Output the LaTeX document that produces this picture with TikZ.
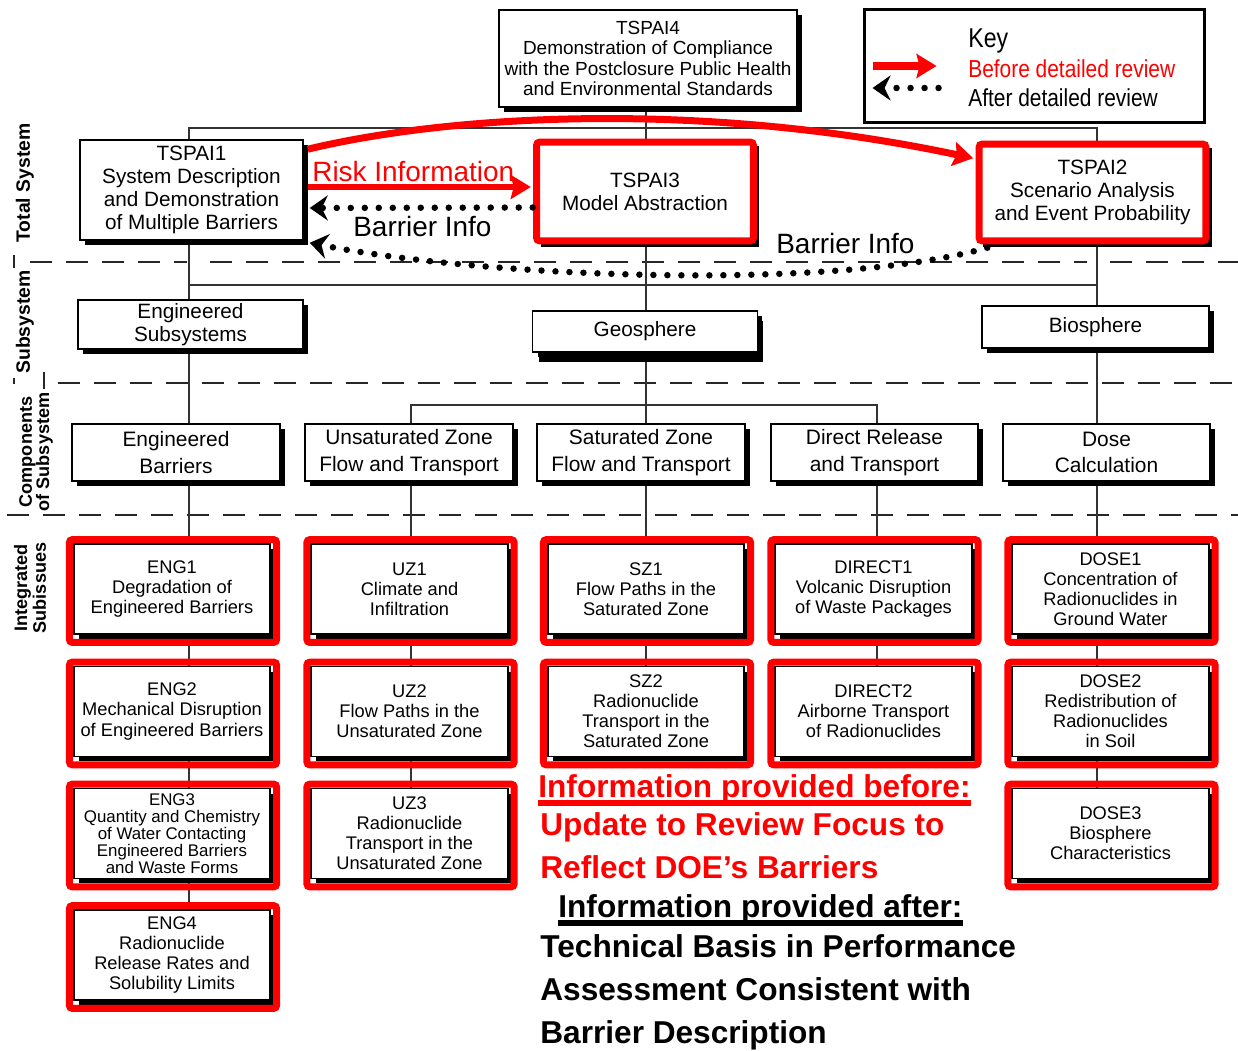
\documentclass[tikz,border=0pt]{standalone}
\usepackage{fontspec}
\setmainfont{Liberation Sans}
\newfontfamily\keyfont[FakeStretch=0.85]{Liberation Sans}
\usetikzlibrary{arrows.meta,shadows,calc,backgrounds}

\tikzset{
  box/.style={draw=black, line width=0.9pt, fill=white, align=center, inner sep=0pt,
    drop shadow={shadow xshift=0.1cm, shadow yshift=-0.1cm, opacity=1, fill=black}},
  sysbox/.style={box, font=\fontsize{11.8}{13.1}\selectfont},
  compbox/.style={box, minimum width=4.15cm, minimum height=1.14cm, font=\fontsize{11.9}{15}\selectfont},
  issuebox/.style={box, minimum width=3.93cm, minimum height=1.8cm, font=\fontsize{10.4}{11.4}\selectfont},
  redframe/.style={draw=red, line width=0.14cm, rounded corners=1.5pt},
  link/.style={draw=black!80, line width=0.7pt},
  sepline/.style={draw=black!85, line width=1.6pt, dash pattern=on 0.44cm off 0.28cm},
  sepmark/.style={draw=black!85, line width=1.6pt},
  before/.style={draw=red, line width=0.14cm, -{Stealth[length=0.4cm, width=0.48cm, inset=0.06cm]}},
  after/.style={draw=black, line width=0.13cm, line cap=round, dash pattern=on 0pt off 0.28cm,
    -{Stealth[length=0.36cm, width=0.5cm, inset=0.12cm]}},
  levellabel/.style={rotate=90, font=\bfseries\fontsize{11}{11}\selectfont, align=center, inner sep=0pt},
  flowtext/.style={anchor=base west, inner sep=0pt, font=\fontsize{15.9}{15.9}\selectfont},
  bigtext/.style={anchor=base west, inner sep=0pt, font=\bfseries\fontsize{18}{18}\selectfont},
}

\begin{document}
\begin{tikzpicture}[x=0.02cm, y=-0.02cm]
    \useasboundingbox (0,0) rectangle (1238,1051);

    % column positions of the tree
    \coordinate (colE) at (189,0);
    \coordinate (colU) at (411,0);
    \coordinate (colS) at (646,0);
    \coordinate (colD) at (877,0);
    \coordinate (colB) at (1097,0);
    \coordinate (topbus) at (0,128);
    \coordinate (subbus) at (0,285);
    \coordinate (geobus) at (0,405);

    % Total system level
    \node[box, minimum width=5.96cm, minimum height=1.94cm, font=\fontsize{10.8}{11.6}\selectfont] (tspai4) at (648,58.5)
        {TSPAI4\\Demonstration of Compliance\\with the Postclosure Public Health\\and Environmental Standards};
    \node[sysbox, minimum width=4.46cm, minimum height=2cm] (tspai1) at (191.5,190)
        {TSPAI1\\System Description\\and Demonstration\\of Multiple Barriers};
    \node[sysbox, minimum width=4.38cm, minimum height=2.02cm] (tspai3) at (645,191.5)
        {TSPAI3\\Model Abstraction};
    \node[sysbox, minimum width=4.58cm, minimum height=1.98cm] (tspai2) at (1092.5,192.5)
        {TSPAI2\\Scenario Analysis\\and Event Probability};
    \draw[redframe] ($(tspai3.north west)+(2,2)$) rectangle ($(tspai3.south east)+(-2,-2)$);
    \draw[redframe] ($(tspai2.north west)+(2,2)$) rectangle ($(tspai2.south east)+(-2,-2)$);

    % Key
    \node[draw, line width=1.7pt, minimum width=6.82cm, minimum height=2.26cm, inner sep=0pt] (keybox) at (1034.5,66) {};
    \draw[before, line width=0.15cm] ($(keybox.west)+(10,0)$) -- ($(keybox.west)+(74,0)$);
    \draw[after] ($(keybox.west)+(76,22)$) -- ($(keybox.west)+(10,22)$);
    \node[anchor=base west, inner sep=0pt, font=\keyfont\fontsize{15.5}{15.5}\selectfont] (keytitle) at (968,48) {Key};
    \node[anchor=base west, inner sep=0pt, text=red, font=\keyfont\fontsize{14}{14}\selectfont] (keybefore) at (968,78) {Before detailed review};
    \node[anchor=base west, inner sep=0pt, font=\keyfont\fontsize{14}{14}\selectfont] (keyafter) at (968,107) {After detailed review};

    % Subsystem level
    \node[sysbox, minimum width=4.5cm, minimum height=0.98cm] (engsub) at (190.5,324.5) {Engineered\\Subsystems};
    \node[sysbox, minimum width=4.5cm, minimum height=0.82cm,
        drop shadow={shadow xshift=0.12cm, shadow yshift=-0.2cm, opacity=1, fill=black}] (geo) at (645,331.5) {Geosphere};
    \node[sysbox, minimum width=4.54cm, minimum height=0.84cm] (bio) at (1095.5,327) {Biosphere};

    % Components of subsystem
    \node[compbox] (engbar) at (176,452.5) {Engineered\\Barriers};
    \node[compbox] (uzt) at (409,452.5) {Unsaturated Zone\\Flow and Transport};
    \node[compbox] (szt) at (641,452.5) {Saturated Zone\\Flow and Transport};
    \node[compbox] (dirt) at (874.5,452.5) {Direct Release\\and Transport};
    \node[compbox] (dosec) at (1106.5,452.5) {Dose\\Calculation};

    % Integrated subissues
    \node[issuebox] (eng1) at (172,589) {ENG1\\Degradation of\\Engineered Barriers};
    \node[issuebox] (eng2) at (172,711.5) {ENG2\\Mechanical Disruption\\of Engineered Barriers};
    \node[issuebox, font=\fontsize{9.6}{9.7}\selectfont] (eng3) at (172,833.5)
        {ENG3\\Quantity and Chemistry\\of Water Contacting\\Engineered Barriers\\and Waste Forms};
    \node[issuebox] (eng4) at (172,955) {ENG4\\Radionuclide\\Release Rates and\\Solubility Limits};
    \node[issuebox] (uz1) at (409.5,589) {UZ1\\Climate and\\Infiltration};
    \node[issuebox] (uz2) at (409.5,711.5) {UZ2\\Flow Paths in the\\Unsaturated Zone};
    \node[issuebox] (uz3) at (409.5,833.5) {UZ3\\Radionuclide\\Transport in the\\Unsaturated Zone};
    \node[issuebox] (sz1) at (646,589) {SZ1\\Flow Paths in the\\Saturated Zone};
    \node[issuebox] (sz2) at (646,711.5) {SZ2\\Radionuclide\\Transport in the\\Saturated Zone};
    \node[issuebox] (dir1) at (873.5,589) {DIRECT1\\Volcanic Disruption\\of Waste Packages};
    \node[issuebox] (dir2) at (873.5,711.5) {DIRECT2\\Airborne Transport\\of Radionuclides};
    \node[issuebox] (dose1) at (1110.5,589) {DOSE1\\Concentration of\\Radionuclides in\\Ground Water};
    \node[issuebox] (dose2) at (1110.5,711.5) {DOSE2\\Redistribution of\\Radionuclides\\in Soil};
    \node[issuebox] (dose3) at (1110.5,833.5) {DOSE3\\Biosphere\\Characteristics};
    \foreach \n in {eng1,eng2,eng3,eng4,uz1,uz2,uz3,sz1,sz2,dir1,dir2,dose1,dose2,dose3}
        \draw[redframe] ($(\n.north west)+(-3.5,-3.5)$) rectangle ($(\n.south east)+(5.5,7.5)$);

    % Level labels
    \node[levellabel] (lbltotal) at (25,183) {Total System};
    \node[levellabel] (lblsub) at (25,322) {Subsystem};
    \node[levellabel, font=\bfseries\fontsize{10.3}{9.8}\selectfont] (lblcomp) at (36,452) {Components\\of Subsystem};
    \node[levellabel, font=\bfseries\fontsize{10.3}{9.2}\selectfont] (lblint) at (30,588) {Integrated\\Subissues};

    % Tree and level separators
    \begin{pgfonlayer}{background}
        \draw[sepline] (30,262) -- (1238,262);
        \draw[sepline] (58,383) -- (1238,383);
        \draw[sepline] (7,515) -- (1238,515);
        \draw[sepmark] (14,255) -- (14,268);
        \draw[sepmark] (14,378) -- (14,384);
        \draw[sepmark] (44,372) -- (44,389);
        \fill[white] (187,246) rectangle (199,281);
        \fill[white] (1087,246) rectangle (1099,281);

        \draw[link] (tspai1.north -| colE) -- (topbus -| colE) -- (topbus -| colB) -- (tspai2.north -| colB);
        \draw[link] (tspai4.south -| colS) -- (tspai3.north -| colS);
        \draw[link] (tspai3.south -| colS) -- (geo.north -| colS);
        \draw[link] (tspai1.south -| colE) -- (engsub.north -| colE);
        \draw[link] (tspai2.south -| colB) -- (bio.north -| colB);
        \draw[link] (subbus -| colE) -- (subbus -| colB);
        \draw[link] (engsub.south -| colE) -- (engbar.north -| colE);
        \draw[link] (geo.south -| colS) -- (szt.north -| colS);
        \draw[link] (uzt.north -| colU) -- (geobus -| colU) -- (geobus -| colD) -- (dirt.north -| colD);
        \draw[link] (bio.south -| colB) -- (dosec.north -| colB);
        \foreach \a/\b/\c in {engbar/eng1/colE, eng1/eng2/colE, eng2/eng3/colE, eng3/eng4/colE,
                              uzt/uz1/colU, uz1/uz2/colU, uz2/uz3/colU,
                              szt/sz1/colS, sz1/sz2/colS,
                              dirt/dir1/colD, dir1/dir2/colD,
                              dosec/dose1/colB, dose1/dose2/colB, dose2/dose3/colB}
            \draw[link] (\a.south -| \c) -- (\b.north -| \c);
    \end{pgfonlayer}

    % Information flow
    \draw[before] ($(tspai1.north east)+(4,10)$) .. controls (450,115) and (700,100) .. ($(tspai2.north west)+(-4,16)$);
    \draw[before] ($(tspai1.east)+(4,-3)$) -- ($(tspai3.west)+(-4,-4.5)$);
    \node[flowtext, text=red] (risk) at (312,181) {Risk Information};
    \draw[after] ($(tspai3.west)+(-2,16)$) -- ($(tspai1.east)+(6,18)$);
    \node[flowtext] (barrier1) at (353,236) {Barrier Info};
    \draw[after] ($(tspai2.south west)+(10,5)$) .. controls (830,292) and (480,277) .. ($(tspai1.south east)+(6,2)$);
    \node[flowtext] (barrier2) at (776,254) {Barrier Info};

    % Notes
    \node[bigtext, text=red] (infobefore) at (538,797) {Information provided before:};
    \draw[red, line width=3pt] ($(infobefore.base west)+(0,6)$) -- ($(infobefore.base east)+(0,6)$);
    \node[bigtext, text=red] (update1) at (540,835) {Update to Review Focus to};
    \node[bigtext, text=red] (update2) at (540,878) {Reflect DOE’s Barriers};
    \node[bigtext] (infoafter) at (558,917) {Information provided after:};
    \draw[black, line width=3pt] ($(infoafter.base west)+(0,6)$) -- ($(infoafter.base east)+(0,6)$);
    \node[bigtext] (basis1) at (540,957) {Technical Basis in Performance};
    \node[bigtext] (basis2) at (540,1000) {Assessment Consistent with};
    \node[bigtext] (basis3) at (540,1043) {Barrier Description};
\end{tikzpicture}
\end{document}
